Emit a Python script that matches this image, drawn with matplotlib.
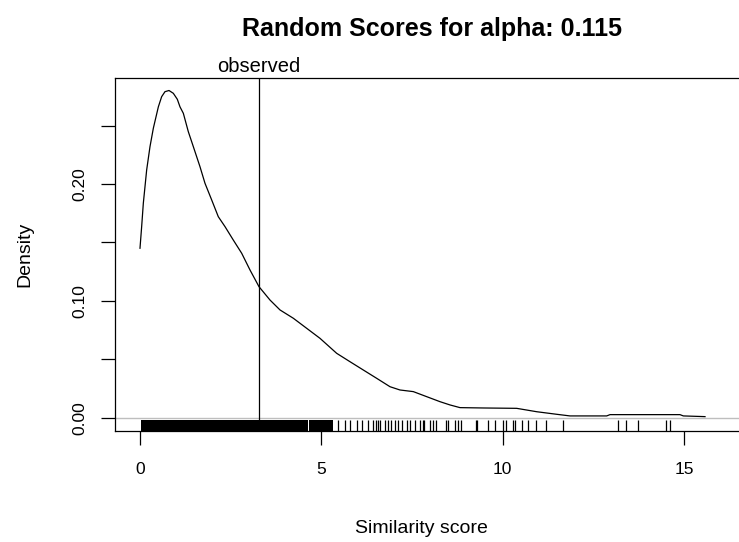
import matplotlib
matplotlib.use("Agg")
import matplotlib.pyplot as plt

plt.rcParams['font.family'] = ['Liberation Sans', 'DejaVu Sans']

# density curve
dens_x = [0.0, 0.046, 0.092, 0.184, 0.276, 0.368, 0.506, 0.597, 0.689, 0.800,
          0.919, 1.029, 1.103, 1.195, 1.332, 1.470, 1.654, 1.792, 1.977, 2.159,
          2.344, 2.573, 2.804, 3.033, 3.281, 3.584, 3.860, 4.227, 4.595, 4.963,
          5.422, 5.790, 6.157, 6.525, 6.893, 7.168, 7.536, 7.903, 8.271, 8.547,
          8.823, 9.466, 10.385, 10.937, 11.489, 11.855, 12.867, 12.958, 14.888,
          14.980, 15.578]
dens_y = [0.145, 0.1635, 0.1835, 0.212, 0.232, 0.2477, 0.266, 0.2747, 0.279, 0.280,
          0.2776, 0.2725, 0.266, 0.2605, 0.2448, 0.232, 0.2148, 0.2006, 0.1863, 0.172,
          0.1635, 0.152, 0.1407, 0.1264, 0.1121, 0.1007, 0.0922, 0.0851, 0.0765, 0.0679,
          0.0551, 0.0479, 0.0408, 0.0337, 0.0265, 0.0237, 0.0223, 0.018, 0.0137, 0.0109,
          0.0086, 0.0083, 0.0080, 0.0051, 0.0029, 0.0015, 0.0015, 0.0026, 0.0026,
          0.0015, 0.0009]

observed = 3.28

# rug: ranges where the ticks merge into a solid block, then single ticks
rug_dense = [(0.02, 4.62), (4.67, 5.32)]
rug_x = [5.46, 5.65, 5.79, 5.97, 6.11, 6.29, 6.43, 6.52, 6.56, 6.61, 6.75, 6.84,
         6.93, 7.02, 7.11, 7.21, 7.35, 7.44, 7.58, 7.71, 7.80, 7.82, 7.99, 8.08,
         8.17, 8.45, 8.49, 8.68, 8.77, 8.86, 9.26, 9.29, 9.60, 9.78, 10.01, 10.10,
         10.28, 10.33, 10.52, 10.70, 10.93, 11.20, 11.66, 13.18, 13.41, 13.73,
         14.51, 14.60]

xticks = [0, 5, 10, 15]
yticks = [0.0, 0.05, 0.10, 0.15, 0.20, 0.25]
ytick_labels = ["0.00", "", "0.10", "", "0.20", ""]

W, H = 739, 542
fig = plt.figure(figsize=(W / 100, H / 100), dpi=100)
ax = fig.add_axes([115 / W, 1 - 431 / H, (739 - 115) / W, (431 - 78) / H])

ax.axhline(0, color="#bebebe", lw=1)
ax.plot(dens_x, dens_y, color="black", lw=0.9)
ax.axvline(observed, color="black", lw=0.9)

for a, b in rug_dense:
    ax.axvspan(a, b, ymin=0, ymax=0.03, color="black", lw=0)
ax.vlines(rug_x, 0, 0.03, transform=ax.get_xaxis_transform(), color="black", lw=0.9)

ax.set_xlim(-0.689, 16.515)
ax.set_ylim(-0.0114, 0.2907)

ax.spines["right"].set_visible(False)
for s in ["left", "bottom", "top"]:
    ax.spines[s].set_linewidth(0.9)

ax.set_xticks(xticks)
ax.set_xticklabels([str(t) for t in xticks])
ax.set_yticks(yticks)
ax.set_yticklabels(ytick_labels, rotation=90, va="center")
ax.tick_params(axis="x", length=10, width=0.9, pad=12, labelsize=12.5)
ax.tick_params(axis="y", length=10, width=0.9, pad=10, labelsize=12.5)

ax.text(observed, 1 + 6.5 / 353, "observed", transform=ax.get_xaxis_transform(),
        ha="center", va="baseline", fontsize=14.5)

fig.text(431.5 / W, 1 - 36 / H, "Random Scores for alpha: 0.115",
         ha="center", va="baseline", fontsize=18, fontweight="bold")
fig.text(421 / W, 1 - 533 / H, "Similarity score", ha="center", va="baseline", fontsize=14)
fig.text(25 / W, 1 - 254.5 / H, "Density", ha="center", va="center",
         rotation=90, fontsize=14)

fig.savefig("out.png", dpi=100)
